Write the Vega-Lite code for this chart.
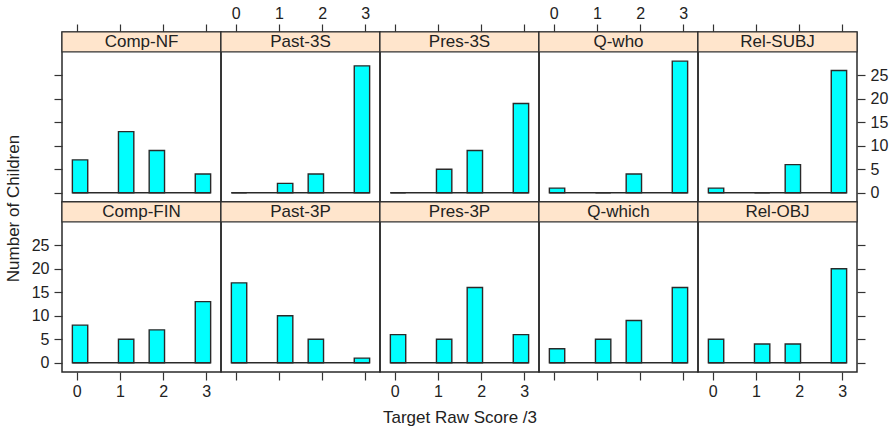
{
  "$schema": "https://vega.github.io/schema/vega-lite/v6.json",
  "padding": {"top": 4, "left": 3, "right": 4, "bottom": 1},
  "background": "white",
  "data": {"values": [
    {"panel": "Comp-NF", "score": 0, "lo": -0.1, "hi": 0.2556, "count": 7},
    {"panel": "Comp-NF", "score": 1, "lo": 0.9667, "hi": 1.3222, "count": 13},
    {"panel": "Comp-NF", "score": 2, "lo": 1.6778, "hi": 2.0333, "count": 9},
    {"panel": "Comp-NF", "score": 3, "lo": 2.7444, "hi": 3.1, "count": 4},
    {"panel": "Past-3S", "score": 0, "lo": -0.1, "hi": 0.2556, "count": 0},
    {"panel": "Past-3S", "score": 1, "lo": 0.9667, "hi": 1.3222, "count": 2},
    {"panel": "Past-3S", "score": 2, "lo": 1.6778, "hi": 2.0333, "count": 4},
    {"panel": "Past-3S", "score": 3, "lo": 2.7444, "hi": 3.1, "count": 27},
    {"panel": "Pres-3S", "score": 0, "lo": -0.1, "hi": 0.2556, "count": 0},
    {"panel": "Pres-3S", "score": 1, "lo": 0.9667, "hi": 1.3222, "count": 5},
    {"panel": "Pres-3S", "score": 2, "lo": 1.6778, "hi": 2.0333, "count": 9},
    {"panel": "Pres-3S", "score": 3, "lo": 2.7444, "hi": 3.1, "count": 19},
    {"panel": "Q-who", "score": 0, "lo": -0.1, "hi": 0.2556, "count": 1},
    {"panel": "Q-who", "score": 1, "lo": 0.9667, "hi": 1.3222, "count": 0},
    {"panel": "Q-who", "score": 2, "lo": 1.6778, "hi": 2.0333, "count": 4},
    {"panel": "Q-who", "score": 3, "lo": 2.7444, "hi": 3.1, "count": 28},
    {"panel": "Rel-SUBJ", "score": 0, "lo": -0.1, "hi": 0.2556, "count": 1},
    {"panel": "Rel-SUBJ", "score": 1, "lo": 0.9667, "hi": 1.3222, "count": 0},
    {"panel": "Rel-SUBJ", "score": 2, "lo": 1.6778, "hi": 2.0333, "count": 6},
    {"panel": "Rel-SUBJ", "score": 3, "lo": 2.7444, "hi": 3.1, "count": 26},
    {"panel": "Comp-FIN", "score": 0, "lo": -0.1, "hi": 0.2556, "count": 8},
    {"panel": "Comp-FIN", "score": 1, "lo": 0.9667, "hi": 1.3222, "count": 5},
    {"panel": "Comp-FIN", "score": 2, "lo": 1.6778, "hi": 2.0333, "count": 7},
    {"panel": "Comp-FIN", "score": 3, "lo": 2.7444, "hi": 3.1, "count": 13},
    {"panel": "Past-3P", "score": 0, "lo": -0.1, "hi": 0.2556, "count": 17},
    {"panel": "Past-3P", "score": 1, "lo": 0.9667, "hi": 1.3222, "count": 10},
    {"panel": "Past-3P", "score": 2, "lo": 1.6778, "hi": 2.0333, "count": 5},
    {"panel": "Past-3P", "score": 3, "lo": 2.7444, "hi": 3.1, "count": 1},
    {"panel": "Pres-3P", "score": 0, "lo": -0.1, "hi": 0.2556, "count": 6},
    {"panel": "Pres-3P", "score": 1, "lo": 0.9667, "hi": 1.3222, "count": 5},
    {"panel": "Pres-3P", "score": 2, "lo": 1.6778, "hi": 2.0333, "count": 16},
    {"panel": "Pres-3P", "score": 3, "lo": 2.7444, "hi": 3.1, "count": 6},
    {"panel": "Q-which", "score": 0, "lo": -0.1, "hi": 0.2556, "count": 3},
    {"panel": "Q-which", "score": 1, "lo": 0.9667, "hi": 1.3222, "count": 5},
    {"panel": "Q-which", "score": 2, "lo": 1.6778, "hi": 2.0333, "count": 9},
    {"panel": "Q-which", "score": 3, "lo": 2.7444, "hi": 3.1, "count": 16},
    {"panel": "Rel-OBJ", "score": 0, "lo": -0.1, "hi": 0.2556, "count": 5},
    {"panel": "Rel-OBJ", "score": 1, "lo": 0.9667, "hi": 1.3222, "count": 4},
    {"panel": "Rel-OBJ", "score": 2, "lo": 1.6778, "hi": 2.0333, "count": 4},
    {"panel": "Rel-OBJ", "score": 3, "lo": 2.7444, "hi": 3.1, "count": 20}
  ]},
  "columns": 5,
  "spacing": 0,
  "bounds": "flush",
  "concat": [
    {"width": 159, "height": 170, "layer": [
      {"transform": [{"filter": "datum.panel == 'Comp-NF'"}], "mark": {"type": "bar", "fill": "#00FFFF", "stroke": "#2a2a2a", "strokeWidth": 1.4}, "encoding": {
        "x": {"field": "lo", "type": "quantitative", "scale": {"domain": [-0.34, 3.34], "nice": false, "zero": false}, "axis": {"orient": "top", "values": [0, 1, 2, 3], "labels": false, "title": null}},
        "x2": {"field": "hi"},
        "y": {"field": "count", "type": "quantitative", "scale": {"domain": [-1.96, 34.2], "nice": false, "zero": false}, "axis": {"orient": "left", "values": [0, 5, 10, 15, 20, 25], "labels": false, "title": null}},
        "y2": {"datum": 0}}},
      {"data": {"values": [{"panel": "Comp-NF"}]}, "mark": {"type": "rect", "fill": "#FFE5CC", "stroke": "#333", "strokeWidth": 1.2}, "encoding": {"x": {"datum": -0.34, "axis": {"orient": "top", "values": [0, 1, 2, 3], "labels": false, "title": null}}, "x2": {"datum": 3.34}, "y": {"datum": 29.96, "axis": {"orient": "left", "values": [0, 5, 10, 15, 20, 25], "labels": false, "title": null}}, "y2": {"datum": 34.2}}},
      {"data": {"values": [{"panel": "Comp-NF"}]}, "mark": {"type": "text", "font": "Liberation Sans", "fontSize": 17, "color": "#222", "baseline": "middle"}, "encoding": {"text": {"field": "panel"}, "x": {"datum": 1.5, "axis": {"orient": "top", "values": [0, 1, 2, 3], "labels": false, "title": null}}, "y": {"datum": 32.08, "axis": {"orient": "left", "values": [0, 5, 10, 15, 20, 25], "labels": false, "title": null}}}},
      {"data": {"values": [{}]}, "mark": {"type": "rule", "color": "#2a2a2a", "strokeWidth": 1.5}, "encoding": {"x": {"datum": -0.1, "axis": {"orient": "top", "values": [0, 1, 2, 3], "labels": false, "title": null}}, "x2": {"datum": 3.1}, "y": {"datum": 0, "axis": {"orient": "left", "values": [0, 5, 10, 15, 20, 25], "labels": false, "title": null}}}}
    ]},
    {"width": 159, "height": 170, "layer": [
      {"transform": [{"filter": "datum.panel == 'Past-3S'"}], "mark": {"type": "bar", "fill": "#00FFFF", "stroke": "#2a2a2a", "strokeWidth": 1.4}, "encoding": {
        "x": {"field": "lo", "type": "quantitative", "scale": {"domain": [-0.34, 3.34], "nice": false, "zero": false}, "axis": {"orient": "top", "values": [0, 1, 2, 3], "labels": true, "title": null}},
        "x2": {"field": "hi"},
        "y": {"field": "count", "type": "quantitative", "scale": {"domain": [-1.96, 34.2], "nice": false, "zero": false}, "axis": null},
        "y2": {"datum": 0}}},
      {"data": {"values": [{"panel": "Past-3S"}]}, "mark": {"type": "rect", "fill": "#FFE5CC", "stroke": "#333", "strokeWidth": 1.2}, "encoding": {"x": {"datum": -0.34, "axis": {"orient": "top", "values": [0, 1, 2, 3], "labels": true, "title": null}}, "x2": {"datum": 3.34}, "y": {"datum": 29.96}, "y2": {"datum": 34.2}}},
      {"data": {"values": [{"panel": "Past-3S"}]}, "mark": {"type": "text", "font": "Liberation Sans", "fontSize": 17, "color": "#222", "baseline": "middle"}, "encoding": {"text": {"field": "panel"}, "x": {"datum": 1.5, "axis": {"orient": "top", "values": [0, 1, 2, 3], "labels": true, "title": null}}, "y": {"datum": 32.08}}},
      {"data": {"values": [{}]}, "mark": {"type": "rule", "color": "#2a2a2a", "strokeWidth": 1.5}, "encoding": {"x": {"datum": -0.1, "axis": {"orient": "top", "values": [0, 1, 2, 3], "labels": true, "title": null}}, "x2": {"datum": 3.1}, "y": {"datum": 0}}}
    ]},
    {"width": 159, "height": 170, "layer": [
      {"transform": [{"filter": "datum.panel == 'Pres-3S'"}], "mark": {"type": "bar", "fill": "#00FFFF", "stroke": "#2a2a2a", "strokeWidth": 1.4}, "encoding": {
        "x": {"field": "lo", "type": "quantitative", "scale": {"domain": [-0.34, 3.34], "nice": false, "zero": false}, "axis": {"orient": "top", "values": [0, 1, 2, 3], "labels": false, "title": null}},
        "x2": {"field": "hi"},
        "y": {"field": "count", "type": "quantitative", "scale": {"domain": [-1.96, 34.2], "nice": false, "zero": false}, "axis": null},
        "y2": {"datum": 0}}},
      {"data": {"values": [{"panel": "Pres-3S"}]}, "mark": {"type": "rect", "fill": "#FFE5CC", "stroke": "#333", "strokeWidth": 1.2}, "encoding": {"x": {"datum": -0.34, "axis": {"orient": "top", "values": [0, 1, 2, 3], "labels": false, "title": null}}, "x2": {"datum": 3.34}, "y": {"datum": 29.96}, "y2": {"datum": 34.2}}},
      {"data": {"values": [{"panel": "Pres-3S"}]}, "mark": {"type": "text", "font": "Liberation Sans", "fontSize": 17, "color": "#222", "baseline": "middle"}, "encoding": {"text": {"field": "panel"}, "x": {"datum": 1.5, "axis": {"orient": "top", "values": [0, 1, 2, 3], "labels": false, "title": null}}, "y": {"datum": 32.08}}},
      {"data": {"values": [{}]}, "mark": {"type": "rule", "color": "#2a2a2a", "strokeWidth": 1.5}, "encoding": {"x": {"datum": -0.1, "axis": {"orient": "top", "values": [0, 1, 2, 3], "labels": false, "title": null}}, "x2": {"datum": 3.1}, "y": {"datum": 0}}}
    ]},
    {"width": 159, "height": 170, "layer": [
      {"transform": [{"filter": "datum.panel == 'Q-who'"}], "mark": {"type": "bar", "fill": "#00FFFF", "stroke": "#2a2a2a", "strokeWidth": 1.4}, "encoding": {
        "x": {"field": "lo", "type": "quantitative", "scale": {"domain": [-0.34, 3.34], "nice": false, "zero": false}, "axis": {"orient": "top", "values": [0, 1, 2, 3], "labels": true, "title": null}},
        "x2": {"field": "hi"},
        "y": {"field": "count", "type": "quantitative", "scale": {"domain": [-1.96, 34.2], "nice": false, "zero": false}, "axis": null},
        "y2": {"datum": 0}}},
      {"data": {"values": [{"panel": "Q-who"}]}, "mark": {"type": "rect", "fill": "#FFE5CC", "stroke": "#333", "strokeWidth": 1.2}, "encoding": {"x": {"datum": -0.34, "axis": {"orient": "top", "values": [0, 1, 2, 3], "labels": true, "title": null}}, "x2": {"datum": 3.34}, "y": {"datum": 29.96}, "y2": {"datum": 34.2}}},
      {"data": {"values": [{"panel": "Q-who"}]}, "mark": {"type": "text", "font": "Liberation Sans", "fontSize": 17, "color": "#222", "baseline": "middle"}, "encoding": {"text": {"field": "panel"}, "x": {"datum": 1.5, "axis": {"orient": "top", "values": [0, 1, 2, 3], "labels": true, "title": null}}, "y": {"datum": 32.08}}},
      {"data": {"values": [{}]}, "mark": {"type": "rule", "color": "#2a2a2a", "strokeWidth": 1.5}, "encoding": {"x": {"datum": -0.1, "axis": {"orient": "top", "values": [0, 1, 2, 3], "labels": true, "title": null}}, "x2": {"datum": 3.1}, "y": {"datum": 0}}}
    ]},
    {"width": 159, "height": 170, "layer": [
      {"transform": [{"filter": "datum.panel == 'Rel-SUBJ'"}], "mark": {"type": "bar", "fill": "#00FFFF", "stroke": "#2a2a2a", "strokeWidth": 1.4}, "encoding": {
        "x": {"field": "lo", "type": "quantitative", "scale": {"domain": [-0.34, 3.34], "nice": false, "zero": false}, "axis": {"orient": "top", "values": [0, 1, 2, 3], "labels": false, "title": null}},
        "x2": {"field": "hi"},
        "y": {"field": "count", "type": "quantitative", "scale": {"domain": [-1.96, 34.2], "nice": false, "zero": false}, "axis": {"orient": "right", "values": [0, 5, 10, 15, 20, 25], "labels": true, "title": null}},
        "y2": {"datum": 0}}},
      {"data": {"values": [{"panel": "Rel-SUBJ"}]}, "mark": {"type": "rect", "fill": "#FFE5CC", "stroke": "#333", "strokeWidth": 1.2}, "encoding": {"x": {"datum": -0.34, "axis": {"orient": "top", "values": [0, 1, 2, 3], "labels": false, "title": null}}, "x2": {"datum": 3.34}, "y": {"datum": 29.96, "axis": {"orient": "right", "values": [0, 5, 10, 15, 20, 25], "labels": true, "title": null}}, "y2": {"datum": 34.2}}},
      {"data": {"values": [{"panel": "Rel-SUBJ"}]}, "mark": {"type": "text", "font": "Liberation Sans", "fontSize": 17, "color": "#222", "baseline": "middle"}, "encoding": {"text": {"field": "panel"}, "x": {"datum": 1.5, "axis": {"orient": "top", "values": [0, 1, 2, 3], "labels": false, "title": null}}, "y": {"datum": 32.08, "axis": {"orient": "right", "values": [0, 5, 10, 15, 20, 25], "labels": true, "title": null}}}},
      {"data": {"values": [{}]}, "mark": {"type": "rule", "color": "#2a2a2a", "strokeWidth": 1.5}, "encoding": {"x": {"datum": -0.1, "axis": {"orient": "top", "values": [0, 1, 2, 3], "labels": false, "title": null}}, "x2": {"datum": 3.1}, "y": {"datum": 0, "axis": {"orient": "right", "values": [0, 5, 10, 15, 20, 25], "labels": true, "title": null}}}}
    ]},
    {"width": 159, "height": 170, "layer": [
      {"transform": [{"filter": "datum.panel == 'Comp-FIN'"}], "mark": {"type": "bar", "fill": "#00FFFF", "stroke": "#2a2a2a", "strokeWidth": 1.4}, "encoding": {
        "x": {"field": "lo", "type": "quantitative", "scale": {"domain": [-0.34, 3.34], "nice": false, "zero": false}, "axis": {"orient": "bottom", "values": [0, 1, 2, 3], "labels": true, "title": null}},
        "x2": {"field": "hi"},
        "y": {"field": "count", "type": "quantitative", "scale": {"domain": [-1.96, 34.2], "nice": false, "zero": false}, "axis": {"orient": "left", "values": [0, 5, 10, 15, 20, 25], "labels": true, "title": "Number of Children", "titleY": 6}},
        "y2": {"datum": 0}}},
      {"data": {"values": [{"panel": "Comp-FIN"}]}, "mark": {"type": "rect", "fill": "#FFE5CC", "stroke": "#333", "strokeWidth": 1.2}, "encoding": {"x": {"datum": -0.34, "axis": {"orient": "bottom", "values": [0, 1, 2, 3], "labels": true, "title": null}}, "x2": {"datum": 3.34}, "y": {"datum": 29.96, "axis": {"orient": "left", "values": [0, 5, 10, 15, 20, 25], "labels": true, "title": "Number of Children", "titleY": 6}}, "y2": {"datum": 34.2}}},
      {"data": {"values": [{"panel": "Comp-FIN"}]}, "mark": {"type": "text", "font": "Liberation Sans", "fontSize": 17, "color": "#222", "baseline": "middle"}, "encoding": {"text": {"field": "panel"}, "x": {"datum": 1.5, "axis": {"orient": "bottom", "values": [0, 1, 2, 3], "labels": true, "title": null}}, "y": {"datum": 32.08, "axis": {"orient": "left", "values": [0, 5, 10, 15, 20, 25], "labels": true, "title": "Number of Children", "titleY": 6}}}},
      {"data": {"values": [{}]}, "mark": {"type": "rule", "color": "#2a2a2a", "strokeWidth": 1.5}, "encoding": {"x": {"datum": -0.1, "axis": {"orient": "bottom", "values": [0, 1, 2, 3], "labels": true, "title": null}}, "x2": {"datum": 3.1}, "y": {"datum": 0, "axis": {"orient": "left", "values": [0, 5, 10, 15, 20, 25], "labels": true, "title": "Number of Children", "titleY": 6}}}}
    ]},
    {"width": 159, "height": 170, "layer": [
      {"transform": [{"filter": "datum.panel == 'Past-3P'"}], "mark": {"type": "bar", "fill": "#00FFFF", "stroke": "#2a2a2a", "strokeWidth": 1.4}, "encoding": {
        "x": {"field": "lo", "type": "quantitative", "scale": {"domain": [-0.34, 3.34], "nice": false, "zero": false}, "axis": {"orient": "bottom", "values": [0, 1, 2, 3], "labels": false, "title": null}},
        "x2": {"field": "hi"},
        "y": {"field": "count", "type": "quantitative", "scale": {"domain": [-1.96, 34.2], "nice": false, "zero": false}, "axis": null},
        "y2": {"datum": 0}}},
      {"data": {"values": [{"panel": "Past-3P"}]}, "mark": {"type": "rect", "fill": "#FFE5CC", "stroke": "#333", "strokeWidth": 1.2}, "encoding": {"x": {"datum": -0.34, "axis": {"orient": "bottom", "values": [0, 1, 2, 3], "labels": false, "title": null}}, "x2": {"datum": 3.34}, "y": {"datum": 29.96}, "y2": {"datum": 34.2}}},
      {"data": {"values": [{"panel": "Past-3P"}]}, "mark": {"type": "text", "font": "Liberation Sans", "fontSize": 17, "color": "#222", "baseline": "middle"}, "encoding": {"text": {"field": "panel"}, "x": {"datum": 1.5, "axis": {"orient": "bottom", "values": [0, 1, 2, 3], "labels": false, "title": null}}, "y": {"datum": 32.08}}},
      {"data": {"values": [{}]}, "mark": {"type": "rule", "color": "#2a2a2a", "strokeWidth": 1.5}, "encoding": {"x": {"datum": -0.1, "axis": {"orient": "bottom", "values": [0, 1, 2, 3], "labels": false, "title": null}}, "x2": {"datum": 3.1}, "y": {"datum": 0}}}
    ]},
    {"width": 159, "height": 170, "layer": [
      {"transform": [{"filter": "datum.panel == 'Pres-3P'"}], "mark": {"type": "bar", "fill": "#00FFFF", "stroke": "#2a2a2a", "strokeWidth": 1.4}, "encoding": {
        "x": {"field": "lo", "type": "quantitative", "scale": {"domain": [-0.34, 3.34], "nice": false, "zero": false}, "axis": {"orient": "bottom", "values": [0, 1, 2, 3], "labels": true, "title": "Target Raw Score /3", "titlePadding": 10}},
        "x2": {"field": "hi"},
        "y": {"field": "count", "type": "quantitative", "scale": {"domain": [-1.96, 34.2], "nice": false, "zero": false}, "axis": null},
        "y2": {"datum": 0}}},
      {"data": {"values": [{"panel": "Pres-3P"}]}, "mark": {"type": "rect", "fill": "#FFE5CC", "stroke": "#333", "strokeWidth": 1.2}, "encoding": {"x": {"datum": -0.34, "axis": {"orient": "bottom", "values": [0, 1, 2, 3], "labels": true, "title": "Target Raw Score /3", "titlePadding": 10}}, "x2": {"datum": 3.34}, "y": {"datum": 29.96}, "y2": {"datum": 34.2}}},
      {"data": {"values": [{"panel": "Pres-3P"}]}, "mark": {"type": "text", "font": "Liberation Sans", "fontSize": 17, "color": "#222", "baseline": "middle"}, "encoding": {"text": {"field": "panel"}, "x": {"datum": 1.5, "axis": {"orient": "bottom", "values": [0, 1, 2, 3], "labels": true, "title": "Target Raw Score /3", "titlePadding": 10}}, "y": {"datum": 32.08}}},
      {"data": {"values": [{}]}, "mark": {"type": "rule", "color": "#2a2a2a", "strokeWidth": 1.5}, "encoding": {"x": {"datum": -0.1, "axis": {"orient": "bottom", "values": [0, 1, 2, 3], "labels": true, "title": "Target Raw Score /3", "titlePadding": 10}}, "x2": {"datum": 3.1}, "y": {"datum": 0}}}
    ]},
    {"width": 159, "height": 170, "layer": [
      {"transform": [{"filter": "datum.panel == 'Q-which'"}], "mark": {"type": "bar", "fill": "#00FFFF", "stroke": "#2a2a2a", "strokeWidth": 1.4}, "encoding": {
        "x": {"field": "lo", "type": "quantitative", "scale": {"domain": [-0.34, 3.34], "nice": false, "zero": false}, "axis": {"orient": "bottom", "values": [0, 1, 2, 3], "labels": false, "title": null}},
        "x2": {"field": "hi"},
        "y": {"field": "count", "type": "quantitative", "scale": {"domain": [-1.96, 34.2], "nice": false, "zero": false}, "axis": null},
        "y2": {"datum": 0}}},
      {"data": {"values": [{"panel": "Q-which"}]}, "mark": {"type": "rect", "fill": "#FFE5CC", "stroke": "#333", "strokeWidth": 1.2}, "encoding": {"x": {"datum": -0.34, "axis": {"orient": "bottom", "values": [0, 1, 2, 3], "labels": false, "title": null}}, "x2": {"datum": 3.34}, "y": {"datum": 29.96}, "y2": {"datum": 34.2}}},
      {"data": {"values": [{"panel": "Q-which"}]}, "mark": {"type": "text", "font": "Liberation Sans", "fontSize": 17, "color": "#222", "baseline": "middle"}, "encoding": {"text": {"field": "panel"}, "x": {"datum": 1.5, "axis": {"orient": "bottom", "values": [0, 1, 2, 3], "labels": false, "title": null}}, "y": {"datum": 32.08}}},
      {"data": {"values": [{}]}, "mark": {"type": "rule", "color": "#2a2a2a", "strokeWidth": 1.5}, "encoding": {"x": {"datum": -0.1, "axis": {"orient": "bottom", "values": [0, 1, 2, 3], "labels": false, "title": null}}, "x2": {"datum": 3.1}, "y": {"datum": 0}}}
    ]},
    {"width": 159, "height": 170, "layer": [
      {"transform": [{"filter": "datum.panel == 'Rel-OBJ'"}], "mark": {"type": "bar", "fill": "#00FFFF", "stroke": "#2a2a2a", "strokeWidth": 1.4}, "encoding": {
        "x": {"field": "lo", "type": "quantitative", "scale": {"domain": [-0.34, 3.34], "nice": false, "zero": false}, "axis": {"orient": "bottom", "values": [0, 1, 2, 3], "labels": true, "title": null}},
        "x2": {"field": "hi"},
        "y": {"field": "count", "type": "quantitative", "scale": {"domain": [-1.96, 34.2], "nice": false, "zero": false}, "axis": {"orient": "right", "values": [0, 5, 10, 15, 20, 25], "labels": false, "title": null}},
        "y2": {"datum": 0}}},
      {"data": {"values": [{"panel": "Rel-OBJ"}]}, "mark": {"type": "rect", "fill": "#FFE5CC", "stroke": "#333", "strokeWidth": 1.2}, "encoding": {"x": {"datum": -0.34, "axis": {"orient": "bottom", "values": [0, 1, 2, 3], "labels": true, "title": null}}, "x2": {"datum": 3.34}, "y": {"datum": 29.96, "axis": {"orient": "right", "values": [0, 5, 10, 15, 20, 25], "labels": false, "title": null}}, "y2": {"datum": 34.2}}},
      {"data": {"values": [{"panel": "Rel-OBJ"}]}, "mark": {"type": "text", "font": "Liberation Sans", "fontSize": 17, "color": "#222", "baseline": "middle"}, "encoding": {"text": {"field": "panel"}, "x": {"datum": 1.5, "axis": {"orient": "bottom", "values": [0, 1, 2, 3], "labels": true, "title": null}}, "y": {"datum": 32.08, "axis": {"orient": "right", "values": [0, 5, 10, 15, 20, 25], "labels": false, "title": null}}}},
      {"data": {"values": [{}]}, "mark": {"type": "rule", "color": "#2a2a2a", "strokeWidth": 1.5}, "encoding": {"x": {"datum": -0.1, "axis": {"orient": "bottom", "values": [0, 1, 2, 3], "labels": true, "title": null}}, "x2": {"datum": 3.1}, "y": {"datum": 0, "axis": {"orient": "right", "values": [0, 5, 10, 15, 20, 25], "labels": false, "title": null}}}}
    ]}
  ],
  "config": {
    "view": {"stroke": "#2a2a2a", "strokeWidth": 1.5},
    "axis": {
      "domain": false, "grid": false, "tickColor": "#333", "tickWidth": 1.2, "tickSize": 8, "labelOverlap": false,
      "labelFont": "Liberation Sans", "labelFontSize": 16, "labelColor": "#222",
      "titleFont": "Liberation Sans", "titleFontSize": 17, "titleFontWeight": "normal", "titleColor": "#222", "titlePadding": 9
    },
    "axisX": {"labelPadding": 3},
    "axisY": {"labelPadding": 5}
  }
}
